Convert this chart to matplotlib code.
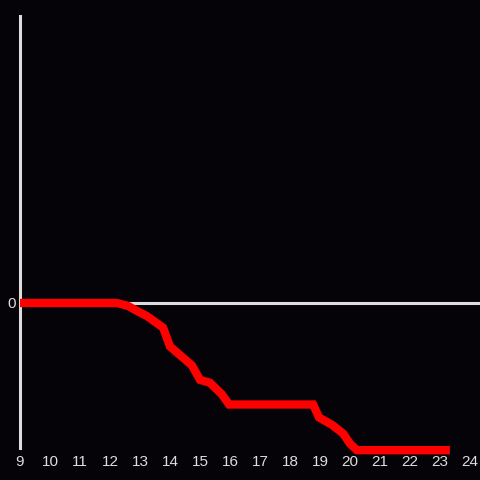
import matplotlib.pyplot as plt

plt.rcParams['font.family'] = ['Liberation Sans', 'DejaVu Sans']

hours = [9, 12.23, 12.6, 12.9, 13.23, 13.77, 14.0, 14.73, 15.0, 15.33, 15.73, 15.97,
         18.77, 18.97, 19.4, 19.77, 20.0, 20.23, 23.33]
values = [0, 0, -0.02, -0.055, -0.09, -0.17, -0.30, -0.43, -0.53, -0.55, -0.63, -0.70,
          -0.70, -0.79, -0.84, -0.90, -0.97, -1.015, -1.015]
xticks = list(range(9, 25))

bg = '#050307'
fg = '#dddddd'

fig = plt.figure(figsize=(4.8, 4.8), dpi=100, facecolor=bg)
ax = fig.add_axes([20 / 480, 32 / 480, 460 / 480, 432 / 480], facecolor=bg)

ax.axhline(0, color=fg, lw=2.2, zorder=1)
ax.plot(hours, values, color='#ff0000', lw=6, solid_joinstyle='miter',
        solid_capstyle='butt', clip_on=False, zorder=3)

ax.set_xlim(9, 9 + 460 / 30)
ax.set_ylim(-1, 287 / 145)
ax.set_xticks(xticks)
ax.set_xticklabels([str(t) for t in xticks])
ax.set_yticks([0])
ax.set_yticklabels(['0'])
ax.tick_params(colors=fg, labelcolor=fg, length=0, labelsize=11, pad=5)
ax.tick_params(axis='y', pad=3)

for s in ['top', 'right', 'bottom']:
    ax.spines[s].set_visible(False)
ax.spines['left'].set_color(fg)
ax.spines['left'].set_linewidth(2.2)

fig.savefig('out.png', dpi=100, facecolor=bg)
